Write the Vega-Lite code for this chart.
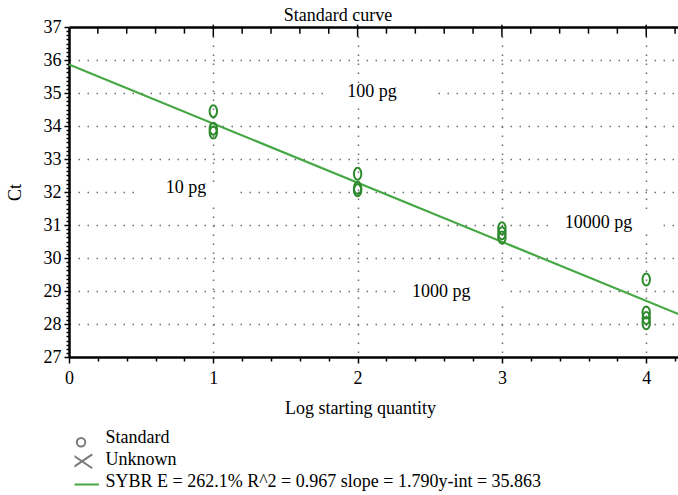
{
  "$schema": "https://vega.github.io/schema/vega-lite/v6.json",
  "width": 612,
  "height": 330,
  "autosize": {"type": "none"},
  "padding": {"left": 69, "top": 27, "right": 0, "bottom": 138},
  "background": "white",
  "config": {
    "view": {"stroke": null},
    "font": "Liberation Serif"
  },
  "title": {
    "text": "Standard curve",
    "font": "Liberation Serif",
    "fontSize": 18,
    "fontWeight": "normal",
    "color": "black",
    "anchor": "middle",
    "frame": "group",
    "baseline": "alphabetic",
    "offset": -21,
    "dx": -37
  },
  "datasets": {
    "points": [
      {"logq": 1, "ct": 34.45},
      {"logq": 1, "ct": 33.92},
      {"logq": 1, "ct": 33.8},
      {"logq": 2, "ct": 32.55},
      {"logq": 2, "ct": 32.12},
      {"logq": 2, "ct": 32.05},
      {"logq": 3, "ct": 30.9},
      {"logq": 3, "ct": 30.75},
      {"logq": 3, "ct": 30.62},
      {"logq": 4, "ct": 29.35},
      {"logq": 4, "ct": 28.35},
      {"logq": 4, "ct": 28.18},
      {"logq": 4, "ct": 28.02}
    ],
    "fit": [
      {"logq": 0, "ct": 35.863},
      {"logq": 4.241, "ct": 28.27}
    ],
    "labels": [
      {"label": "10 pg", "logq": 0.81, "ct": 32.12, "bx": 0.81, "by": 32},
      {"label": "100 pg", "logq": 2.1, "ct": 35.03, "bx": 2.16, "by": 35},
      {"label": "1000 pg", "logq": 2.58, "ct": 28.97, "bx": 2.68, "by": 29},
      {"label": "10000 pg", "logq": 3.67, "ct": 31.06, "bx": 3.73, "by": 31}
    ],
    "topmarks": [
      {"logq": 0.2, "ct": 36.98}, {"logq": 0.4, "ct": 36.98}, {"logq": 0.6, "ct": 36.98}, {"logq": 0.8, "ct": 36.98}, {"logq": 1, "ct": 36.98},
      {"logq": 1.2, "ct": 36.98}, {"logq": 1.4, "ct": 36.98}, {"logq": 1.6, "ct": 36.98}, {"logq": 1.8, "ct": 36.98}, {"logq": 2, "ct": 36.98},
      {"logq": 2.2, "ct": 36.98}, {"logq": 2.4, "ct": 36.98}, {"logq": 2.6, "ct": 36.98}, {"logq": 2.8, "ct": 36.98}, {"logq": 3, "ct": 36.98},
      {"logq": 3.2, "ct": 36.98}, {"logq": 3.4, "ct": 36.98}, {"logq": 3.6, "ct": 36.98}, {"logq": 3.8, "ct": 36.98}, {"logq": 4, "ct": 36.98},
      {"logq": 4.2, "ct": 36.98}
    ]
  },
  "layer": [
    {
      "data": {"name": "labels"},
      "mark": {"type": "point", "filled": true, "fill": "white", "stroke": null, "opacity": 1, "shape": "M-1,-0.16H1V0.16H-1Z"},
      "encoding": {
        "x": {
          "field": "bx", "type": "quantitative",
          "scale": {"domain": [0, 4.241], "nice": false, "zero": false},
          "title": "Log starting quantity",
          "axis": {
            "orient": "bottom",
            "values": [0,0.2,0.4,0.6,0.8,1,1.2,1.4,1.6,1.8,2,2.2,2.4,2.6,2.8,3,3.2,3.4,3.6,3.8,4,4.2],
            "tickCount": 500,
            "tickMinStep": 0.01,
            "labelExpr": "datum.value % 1 === 0 ? format(datum.value, 'd') : ''",
            "labelFont": "Liberation Serif",
            "labelFontSize": 18,
            "labelColor": "black",
            "labelPadding": 6,
            "labelFlush": false,
            "labelOverlap": false,
            "domainColor": "black",
            "domainWidth": 2.5,
            "tickColor": "black",
            "tickWidth": 1.5,
            "tickSize": {"condition": {"test": "datum.value % 1 === 0", "value": 6}, "value": 4},
            "grid": true,
            "gridColor": "#6e6e6e",
            "gridWidth": 1.5,
            "gridDash": [1.5, 7.5],
            "gridOpacity": {"condition": {"test": "datum.value % 1 === 0 && datum.value > 0", "value": 1}, "value": 0},
            "titleFont": "Liberation Serif",
            "titleFontSize": 18,
            "titleFontWeight": "normal",
            "titleColor": "black",
            "titleX": 291,
            "titleY": 51,
            "titleBaseline": "middle",
            "titleAlign": "center"
          }
        },
        "y": {
          "field": "by", "type": "quantitative",
          "scale": {"domain": [27, 37], "nice": false, "zero": false},
          "title": "Ct",
          "axis": {
            "orient": "left",
            "values": [27,27.125,27.25,27.375,27.5,27.625,27.75,27.875,28,28.125,28.25,28.375,28.5,28.625,28.75,28.875,29,29.125,29.25,29.375,29.5,29.625,29.75,29.875,30,30.125,30.25,30.375,30.5,30.625,30.75,30.875,31,31.125,31.25,31.375,31.5,31.625,31.75,31.875,32,32.125,32.25,32.375,32.5,32.625,32.75,32.875,33,33.125,33.25,33.375,33.5,33.625,33.75,33.875,34,34.125,34.25,34.375,34.5,34.625,34.75,34.875,35,35.125,35.25,35.375,35.5,35.625,35.75,35.875,36,36.125,36.25,36.375,36.5,36.625,36.75,36.875,37],
            "tickCount": 500,
            "tickMinStep": 0.01,
            "labelExpr": "datum.value % 1 === 0 ? format(datum.value, 'd') : ''",
            "labelFont": "Liberation Serif",
            "labelFontSize": 18,
            "labelColor": "black",
            "labelPadding": 3,
            "labelFlush": false,
            "labelOverlap": false,
            "domainColor": "black",
            "domainWidth": 2.5,
            "tickColor": "black",
            "tickWidth": 1.5,
            "tickSize": {"condition": {"test": "datum.value % 1 === 0", "value": 5}, "value": 3},
            "grid": true,
            "gridColor": {"condition": {"test": "datum.value === 37", "value": "black"}, "value": "#6e6e6e"},
            "gridWidth": {"condition": {"test": "datum.value === 37", "value": 2.5}, "value": 1.5},
            "gridDash": {"condition": {"test": "datum.value === 37", "value": [1, 0]}, "value": [1.5, 7.5]},
            "gridOpacity": {"condition": {"test": "datum.value % 1 === 0 && datum.value > 27", "value": 1}, "value": 0},
            "titleFont": "Liberation Serif",
            "titleFontSize": 18,
            "titleFontWeight": "normal",
            "titleColor": "black",
            "titleX": -54,
            "titleY": 165,
            "titleAngle": 270,
            "titleBaseline": "middle",
            "titleAlign": "center"
          }
        },
        "size": {
          "field": "label", "type": "nominal",
          "scale": {"domain": ["10 pg", "100 pg", "1000 pg", "10000 pg"], "range": [10404, 12544, 12544, 16641]},
          "legend": null
        }
      }
    },
    {
      "data": {"name": "labels"},
      "mark": {"type": "text", "font": "Liberation Serif", "fontSize": 18, "color": "black", "align": "center", "baseline": "middle"},
      "encoding": {
        "x": {"field": "logq", "type": "quantitative", "title": "Log starting quantity"},
        "y": {"field": "ct", "type": "quantitative", "title": "Ct"},
        "text": {"field": "label"}
      }
    },
    {
      "data": {"name": "topmarks"},
      "mark": {"type": "tick", "orient": "vertical", "color": "black", "thickness": 1.5, "opacity": 1},
      "encoding": {
        "x": {"field": "logq", "type": "quantitative", "title": "Log starting quantity"},
        "y": {"field": "ct", "type": "quantitative", "title": "Ct"},
        "size": {"condition": {"test": "datum.logq % 1 === 0", "value": 12}, "value": 6},
        "yOffset": {"condition": {"test": "datum.logq % 1 === 0", "value": 6}, "value": 3}
      }
    },
    {
      "data": {"name": "fit"},
      "mark": {"type": "line", "color": "#45a845", "strokeWidth": 2.2},
      "encoding": {
        "x": {"field": "logq", "type": "quantitative", "title": "Log starting quantity"},
        "y": {"field": "ct", "type": "quantitative", "title": "Ct"}
      }
    },
    {
      "data": {"name": "points"},
      "mark": {"type": "point", "filled": false, "color": "#2e8b2e", "strokeWidth": 2, "size": 144, "opacity": 1, "shape": "M0,-1A0.62,1 0 1,1 0,1A0.62,1 0 1,1 0,-1Z"},
      "encoding": {
        "x": {"field": "logq", "type": "quantitative", "title": "Log starting quantity"},
        "y": {"field": "ct", "type": "quantitative", "title": "Ct"}
      }
    },
    {
      "data": {"values": []},
      "mark": {"type": "point", "filled": false, "strokeWidth": 2, "size": 289, "opacity": 1},
      "encoding": {
        "x": {"field": "logq", "type": "quantitative", "title": "Log starting quantity"},
        "y": {"field": "ct", "type": "quantitative", "title": "Ct"},
        "shape": {
          "field": "series", "type": "nominal",
          "scale": {
            "domain": ["Standard", "Unknown", "SYBR E = 262.1% R^2 = 0.967 slope = 1.790y-int = 35.863"],
            "range": ["M0.15,0.5A0.5,0.5 0 1,1 -0.85,0.5A0.5,0.5 0 1,1 0.15,0.5Z", "M-1.45,-0.67L0.97,0.97M-1.45,0.97L0.97,-0.67", "M-1.76,0.3H1.76"]
          }
        },
        "color": {
          "field": "series", "type": "nominal",
          "scale": {
            "domain": ["Standard", "Unknown", "SYBR E = 262.1% R^2 = 0.967 slope = 1.790y-int = 35.863"],
            "range": ["#7a7a7a", "#7a7a7a", "#45a845"]
          },
          "legend": {
            "orient": "none",
            "legendX": 5.5,
            "legendY": 400,
            "title": null,
            "padding": 0,
            "symbolSize": 289,
            "symbolStrokeWidth": 2,
            "rowPadding": 0,
            "clipHeight": 22,
            "labelOffset": 12,
            "labelFont": "Liberation Serif",
            "labelFontSize": 18,
            "labelColor": "black",
            "labelLimit": 700
          }
        }
      }
    }
  ]
}
